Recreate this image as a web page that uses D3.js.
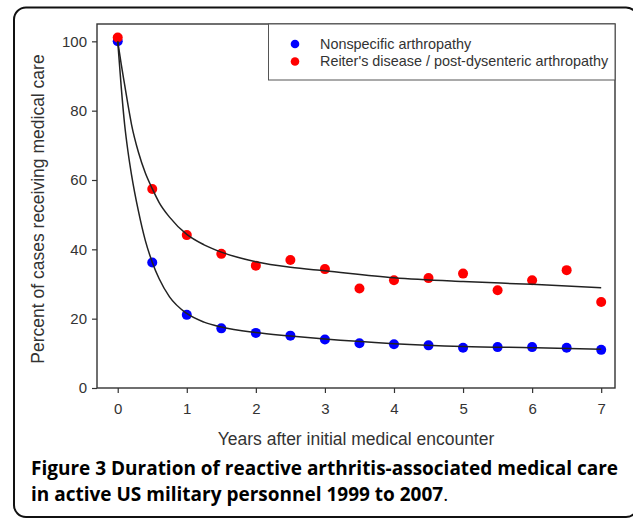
<!DOCTYPE html>
<html>
<head>
<meta charset="utf-8">
<script src="https://cdn.jsdelivr.net/npm/d3@7"></script>
<style>
  body { margin: 0; background: #fff; }
  svg { display: block; }
</style>
</head>
<body>
<script>
const years = [0, 0.5, 1, 1.5, 2, 2.5, 3, 3.5, 4, 4.5, 5, 5.5, 6, 6.5, 7];
const nonspecific = [100, 36.2, 21.1, 17.2, 15.9, 15.1, 14.0, 12.9, 12.6, 12.3, 11.6, 11.8, 11.8, 11.6, 11.0];
const reiters = [101.1, 57.4, 44.1, 38.7, 35.3, 36.9, 34.3, 28.7, 31.1, 31.7, 33.0, 28.2, 31.1, 34.0, 24.8];

// fitted curves, sampled from the figure
const fitYears = [0, 0.05, 0.1, 0.15, 0.2, 0.3, 0.4, 0.5, 0.6, 0.75, 1, 1.25, 1.5, 2, 2.5, 3, 4, 5, 6, 7];
const fitNonspecific = [100, 87, 76, 68, 61.5, 51, 42.5, 36.3, 31.5, 26.3, 21.5, 19, 17.6, 16, 15, 14.1, 12.8, 12, 11.6, 11.2];
const fitReiters = [100, 93.5, 87.5, 81.5, 76, 68, 62, 57.5, 53.5, 49.3, 44.3, 41.3, 39.2, 36.4, 34.8, 33.8, 31.8, 30.7, 29.9, 28.9];

const xTicks = [0, 1, 2, 3, 4, 5, 6, 7];
const yTicks = [0, 20, 40, 60, 80, 100];
const seriesNames = ["Nonspecific arthropathy", "Reiter's disease / post-dysenteric arthropathy"];
const seriesColors = ["#0000ff", "#ff0000"];

function viz(){
  const width = 633, height = 518;
  const margin = { top: 24, left: 97, bottom: 130, right: 15 };

  const svg = d3.select("body").append("svg")
      .attr("width", width).attr("height", height);

  // rounded outer border of the figure box
  svg.append("rect")
     .attr("x", 14).attr("y", 7.5).attr("width", 624).attr("height", 509.5)
     .attr("rx", 12).attr("fill", "none").attr("stroke", "#111").attr("stroke-width", 2);

  const x = d3.scaleLinear().domain([-0.3, 7.2]).range([margin.left, width - margin.right - 3]);
  const y = d3.scaleLinear().domain([0, 105]).range([height - margin.bottom, margin.top]);

  const g = svg.append("g").style("font-family", "Arial, 'Liberation Sans', sans-serif");

  // plot frame
  g.append("rect")
   .attr("x", x.range()[0]).attr("y", y.range()[1])
   .attr("width", x.range()[1] - x.range()[0]).attr("height", y.range()[0] - y.range()[1])
   .attr("fill", "none").attr("stroke", "#333").attr("stroke-width", 1.4);

  const yAxis = g.append("g").attr("transform", `translate(${x.range()[0]},0)`)
     .call(d3.axisLeft(y).tickValues(yTicks).tickSize(5).tickPadding(5));
  const xAxis = g.append("g").attr("transform", `translate(0,${y.range()[0]})`)
     .call(d3.axisBottom(x).tickValues(xTicks).tickSize(5).tickPadding(10));
  [xAxis, yAxis].forEach(a => {
    a.select(".domain").remove();
    a.selectAll("line").attr("stroke", "#333").attr("stroke-width", 1.2);
    a.selectAll("text").attr("fill", "#333").style("font-size", "15px").style("font-family", "Arial, 'Liberation Sans', sans-serif");
  });

  // axis titles
  g.append("text").attr("x", (x.range()[0] + x.range()[1]) / 2).attr("y", 445)
   .attr("text-anchor", "middle").attr("fill", "#333").style("font-size", "17.5px")
   .text("Years after initial medical encounter");
  g.append("text").attr("transform", `translate(43.5,${(y.range()[0] + y.range()[1]) / 2 + 3}) rotate(-90)`)
   .attr("text-anchor", "middle").attr("fill", "#333").style("font-size", "17.5px")
   .text("Percent of cases receiving medical care");

  // points
  [nonspecific, reiters].forEach((vals, i) => {
    g.append("g").selectAll("circle").data(vals).join("circle")
     .attr("cx", (d, j) => x(years[j])).attr("cy", d => y(d))
     .attr("r", 5).attr("fill", seriesColors[i]);
  });

  // fitted curves
  const line = d3.line().x((d, j) => x(fitYears[j])).y(d => y(d)).curve(d3.curveMonotoneX);
  [fitNonspecific, fitReiters].forEach(vals => {
    g.append("path").attr("d", line(vals))
     .attr("fill", "none").attr("stroke", "#222").attr("stroke-width", 1.5);
  });

  // legend
  const lg = g.append("g");
  lg.append("rect").attr("x", 268.5).attr("y", y.range()[1]).attr("width", x.range()[1] - 268.5).attr("height", 56)
    .attr("fill", "#fff").attr("stroke", "#555").attr("stroke-width", 1);
  seriesNames.forEach((name, i) => {
    lg.append("circle").attr("cx", 295).attr("cy", 44 + i * 17.5).attr("r", 4.3).attr("fill", seriesColors[i]);
    lg.append("text").attr("x", 320).attr("y", 48.5 + i * 17.5).attr("fill", "#333")
      .style("font-size", "14.4px").text(name);
  });

  // caption
  const cap = svg.append("g").style("font-family", "'Open Sans', sans-serif").style("font-size", "19px").attr("fill", "#000");
  cap.append("text").attr("x", 31).attr("y", 475)
     .attr("textLength", 587).attr("lengthAdjust", "spacing")
     .style("font-weight", "bold")
     .text("Figure 3 Duration of reactive arthritis-associated medical care");
  const t2 = cap.append("text").attr("x", 31).attr("y", 501);
  t2.append("tspan").style("font-weight", "bold").text("in active US military personnel 1999 to 2007");
  t2.append("tspan").text(".");
}
viz();
</script>
</body>
</html>
